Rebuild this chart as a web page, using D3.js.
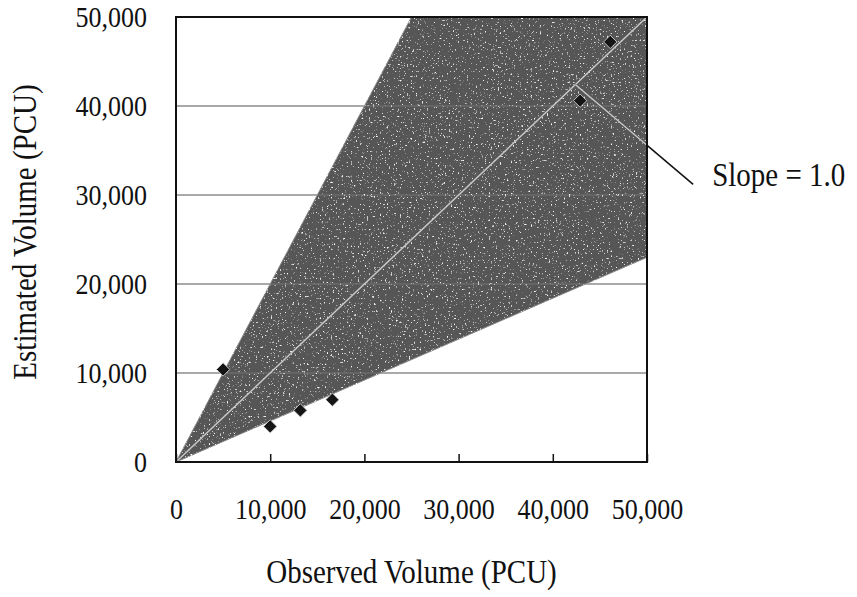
<!DOCTYPE html>
<html>
<head>
<meta charset="utf-8">
<script src="https://cdn.jsdelivr.net/npm/d3@7"></script>
<style>
  body { margin: 0; background: #fff; }
  text { font-family: "Liberation Serif", "Times New Roman", serif; fill: #111; }
</style>
</head>
<body>
<div id="chart"></div>
<script>
(function() {
  // Values (PCU)
  const observed  = [5000, 10000, 13200, 16600, 42900, 46100];
  const estimated = [10400, 4000, 5800, 7000, 40600, 47200];
  const tickValues = [0, 10000, 20000, 30000, 40000, 50000];

  // acceptance wedge: upper line y = 2x, lower line ends near 23,000 at 50,000
  const wedgeX = [0, 25000, 50000, 50000];
  const wedgeY = [0, 50000, 50000, 23000];

  // slope = 1 reference line and its callout
  const diagX = [0, 50000];
  const diagY = [0, 50000];
  const calloutX = [42400, 54900];
  const calloutY = [42400, 31200];

  const width = 857, height = 597;
  const margin = { left: 176, right: 210, top: 17, bottom: 135 };
  const stretch = 1.15; // scanned glyphs look taller than they are wide

  const svg = d3.select("#chart").append("svg")
    .attr("width", width)
    .attr("height", height);

  const x = d3.scaleLinear().domain([0, 50000]).range([margin.left, width - margin.right]);
  const y = d3.scaleLinear().domain([0, 50000]).range([height - margin.bottom, margin.top]);

  const fmt = d3.format(",");

  const defs = svg.append("defs");
  defs.append("clipPath").attr("id", "plotClip")
    .append("rect")
    .attr("x", x(0)).attr("y", y(50000))
    .attr("width", x(50000) - x(0)).attr("height", y(0) - y(50000));

  // speckle texture like the halftone of the scan
  const speckle = defs.append("filter").attr("id", "speckle")
    .attr("x", 0).attr("y", 0).attr("width", 1).attr("height", 1);
  speckle.append("feTurbulence")
    .attr("type", "fractalNoise").attr("baseFrequency", 0.55)
    .attr("numOctaves", 2).attr("seed", 4).attr("result", "noise");
  speckle.append("feColorMatrix")
    .attr("in", "noise").attr("type", "matrix")
    .attr("values", "0 0 0 0 1  0 0 0 0 1  0 0 0 0 1  6 0 0 0 -3.9")
    .attr("result", "dots");
  speckle.append("feComposite")
    .attr("in", "dots").attr("in2", "SourceGraphic").attr("operator", "atop");

  // horizontal gridlines
  svg.append("g")
    .selectAll("line")
    .data(tickValues.slice(1, -1))
    .join("line")
    .attr("x1", x(0)).attr("x2", x(50000))
    .attr("y1", d => y(d)).attr("y2", d => y(d))
    .attr("stroke", "#444")
    .attr("stroke-width", 1.2);

  // shaded wedge
  const wedge = d3.line().x((d, i) => x(wedgeX[i])).y((d, i) => y(wedgeY[i]));
  svg.append("path")
    .attr("d", wedge(wedgeX) + "Z")
    .attr("fill", "#575757")
    .attr("stroke", "#888")
    .attr("stroke-width", 1)
    .attr("filter", "url(#speckle)");

  // gridlines faintly visible over the shading
  svg.append("g")
    .selectAll("line")
    .data(tickValues.slice(1, -1))
    .join("line")
    .attr("x1", x(0)).attr("x2", x(50000))
    .attr("y1", d => y(d)).attr("y2", d => y(d))
    .attr("stroke", "#fff")
    .attr("stroke-opacity", 0.18)
    .attr("stroke-width", 1.2);

  // slope = 1 line
  svg.append("line")
    .attr("x1", x(diagX[0])).attr("y1", y(diagY[0]))
    .attr("x2", x(diagX[1])).attr("y2", y(diagY[1]))
    .attr("stroke", "#c8c8c8")
    .attr("stroke-width", 1.5);

  // callout line: black outside the plot, light inside the shading
  svg.append("line")
    .attr("x1", x(calloutX[0])).attr("y1", y(calloutY[0]))
    .attr("x2", x(calloutX[1])).attr("y2", y(calloutY[1]))
    .attr("stroke", "#111")
    .attr("stroke-width", 1.5);
  svg.append("line")
    .attr("clip-path", "url(#plotClip)")
    .attr("x1", x(calloutX[0])).attr("y1", y(calloutY[0]))
    .attr("x2", x(calloutX[1])).attr("y2", y(calloutY[1]))
    .attr("stroke", "#c8c8c8")
    .attr("stroke-width", 1.5);

  svg.append("text")
    .attr("transform", `translate(${x(calloutX[1]) + 19},${y(calloutY[1]) - 6}) scale(1,${stretch})`)
    .attr("font-size", 29)
    .attr("dominant-baseline", "middle")
    .text("Slope = 1.0");

  // data points (diamonds)
  svg.append("g")
    .selectAll("path")
    .data(observed)
    .join("path")
    .attr("d", d3.symbol(d3.symbolSquare, 88))
    .attr("transform", (d, i) => `translate(${x(d)},${y(estimated[i])}) rotate(45)`)
    .attr("fill", "#151515")
    .attr("stroke", "#d8d8d8")
    .attr("stroke-width", 0.8);

  // x axis with short inward ticks
  svg.append("g")
    .attr("transform", `translate(0,${y(0)})`)
    .call(d3.axisBottom(x).tickValues(tickValues).tickSize(-8).tickPadding(0).tickFormat(fmt))
    .call(g => g.select(".domain").remove())
    .call(g => g.selectAll(".tick line").attr("stroke", "#111").attr("stroke-width", 1.5))
    .call(g => g.selectAll(".tick text")
      .attr("y", 50 / stretch)
      .attr("dy", 0)
      .attr("transform", `scale(1,${stretch})`)
      .attr("dominant-baseline", "middle")
      .attr("font-size", 26)
      .attr("font-family", "Liberation Serif, serif"));

  // y axis labels only (gridlines drawn above)
  svg.append("g")
    .attr("transform", `translate(${x(0)},0)`)
    .call(d3.axisLeft(y).tickValues(tickValues).tickSize(0).tickPadding(29).tickFormat(fmt))
    .call(g => g.select(".domain").remove())
    .call(g => g.selectAll(".tick text")
      .attr("dy", 2)
      .attr("transform", `scale(1,${stretch})`)
      .attr("dominant-baseline", "middle")
      .attr("font-size", 26)
      .attr("font-family", "Liberation Serif, serif"));

  // plot frame
  svg.append("rect")
    .attr("x", x(0)).attr("y", y(50000))
    .attr("width", x(50000) - x(0)).attr("height", y(0) - y(50000))
    .attr("fill", "none")
    .attr("stroke", "#111")
    .attr("stroke-width", 2);

  // axis titles
  svg.append("text")
    .attr("transform", `translate(${(x(0) + x(50000)) / 2},583) scale(1,${stretch})`)
    .attr("text-anchor", "middle")
    .attr("font-size", 29)
    .text("Observed Volume (PCU)");

  svg.append("text")
    .attr("transform", `translate(36,232) rotate(-90) scale(1,${stretch})`)
    .attr("text-anchor", "middle")
    .attr("font-size", 29)
    .text("Estimated Volume (PCU)");
})();
</script>
</body>
</html>
